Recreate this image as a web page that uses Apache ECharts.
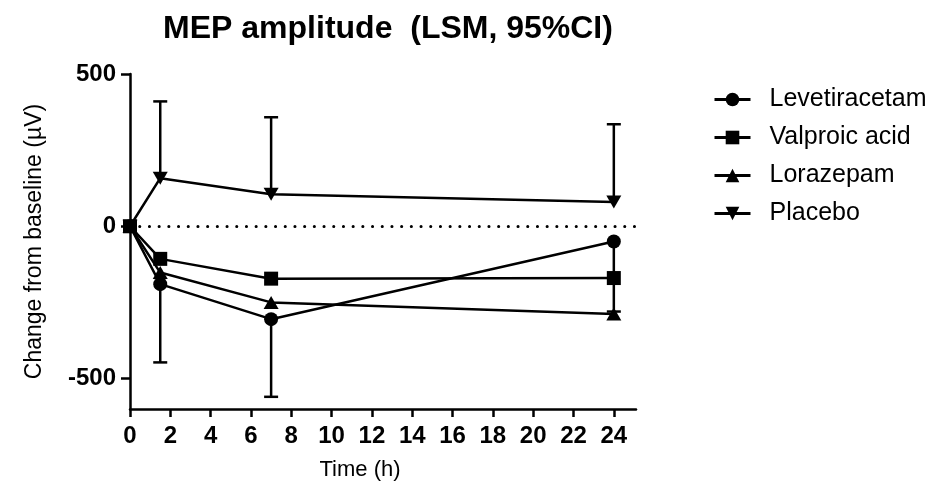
<!DOCTYPE html>
<html>
<head>
<meta charset="utf-8">
<script src="https://cdn.jsdelivr.net/npm/echarts@6/dist/echarts.min.js"></script>
<style>
  html, body { margin: 0; padding: 0; background: #fff; }
  #chart { width: 947px; height: 486px; }
</style>
</head>
<body>
<div id="chart"></div>
<script>
// time points (h)
const times = [0, 1.5, 7, 24];
const xTicks = [0, 2, 4, 6, 8, 10, 12, 14, 16, 18, 20, 22, 24];
const yTicks = [-500, 0, 500];

// LSM change from baseline (µV)
const levetiracetam = [0, -190, -305, -50];
const valproicAcid = [0, -107, -172, -170];
const lorazepam = [0, -152, -250, -288];
const placebo = [0, 158, 105, 80];

// one-sided 95% CI whiskers
const levetiracetamLower = [null, -447, -560, -280];
const placeboUpper = [null, 410, 358, 335];

const downTriangle = 'path://M0,0 L10,0 L5,9 Z';

const chart = echarts.init(document.getElementById('chart'));

function pairs(ys) {
  return times.map((t, i) => [t, ys[i]]);
}

function whiskers(mean, end) {
  const out = [];
  times.forEach((t, i) => {
    if (end[i] !== null) out.push([t, mean[i], end[i]]);
  });
  return out;
}

function renderWhisker(params, api) {
  const x = api.value(0);
  const p0 = api.coord([x, api.value(1)]);
  const p1 = api.coord([x, api.value(2)]);
  const half = 7;
  const style = { stroke: '#000', lineWidth: 2.5 };
  return {
    type: 'group',
    children: [
      { type: 'line', shape: { x1: p0[0], y1: p0[1], x2: p1[0], y2: p1[1] }, style: style },
      { type: 'line', shape: { x1: p1[0] - half, y1: p1[1], x2: p1[0] + half, y2: p1[1] }, style: style },
    ],
  };
}

function lineSeries(name, ys, symbol, size) {
  return {
    name: name,
    type: 'line',
    data: pairs(ys),
    symbol: symbol,
    symbolSize: size,
    showAllSymbol: true,
    z: 3,
    lineStyle: { color: '#000', width: 2.5 },
    itemStyle: { color: '#000', borderWidth: 0 },
    emphasis: { disabled: true },
  };
}

const font = '"Liberation Sans", Arial, sans-serif';

const option = {
  animation: false,
  textStyle: { fontFamily: font, color: '#000' },
  title: {
    text: 'MEP amplitude  (LSM, 95%CI)',
    left: 383,
    textAlign: 'center',
    top: 8,
    textStyle: { fontFamily: font, fontWeight: 'bold', fontSize: 32, color: '#000' },
  },
  legend: {
    data: ['Levetiracetam', 'Valproic acid', 'Lorazepam', 'Placebo'],
    orient: 'vertical',
    left: 708,
    top: 82,
    itemWidth: 36,
    itemHeight: 17,
    itemGap: 13,
    lineStyle: { width: 3 },
    textStyle: { fontFamily: font, fontSize: 25, color: '#000', padding: [0, 0, 0, 14] },
  },
  grid: { left: 130, right: 311, top: 74, bottom: 74, containLabel: false },
  xAxis: {
    type: 'value',
    min: 0,
    max: 25.1,
    name: 'Time (h)',
    nameLocation: 'middle',
    nameGap: 50,
    nameTextStyle: { fontFamily: font, fontSize: 22, color: '#000', padding: [0, 46, 0, 0] },
    axisLine: { show: true, onZero: false, lineStyle: { color: '#000', width: 2.5 } },
    axisTick: { show: true, length: 8, customValues: xTicks, lineStyle: { color: '#000', width: 2.5 } },
    axisLabel: { customValues: xTicks, margin: 15, fontFamily: font, fontWeight: 'bold', fontSize: 24, color: '#000' },
    splitLine: { show: false },
  },
  yAxis: {
    type: 'value',
    min: -600,
    max: 500,
    name: 'Change from baseline (µV)',
    nameLocation: 'middle',
    nameRotate: 90,
    nameGap: 84,
    nameTextStyle: { fontFamily: font, fontSize: 23, color: '#000' },
    axisLine: { show: true, onZero: false, lineStyle: { color: '#000', width: 2.5 } },
    axisTick: { show: true, length: 9, customValues: yTicks, lineStyle: { color: '#000', width: 2.5 } },
    axisLabel: { customValues: yTicks, margin: 14, fontFamily: font, fontWeight: 'bold', fontSize: 24, color: '#000' },
    splitLine: { show: false },
  },
  series: [
    {
      type: 'custom',
      name: 'placeboCI',
      renderItem: renderWhisker,
      data: whiskers(placebo, placeboUpper),
      encode: { x: 0, y: [1, 2] },
      z: 2,
      silent: true,
    },
    {
      type: 'custom',
      name: 'levetiracetamCI',
      renderItem: renderWhisker,
      data: whiskers(levetiracetam, levetiracetamLower),
      encode: { x: 0, y: [1, 2] },
      z: 2,
      silent: true,
    },
    Object.assign(lineSeries('Levetiracetam', levetiracetam, 'circle', 14), {
      markLine: {
        silent: true,
        symbol: 'none',
        label: { show: false },
        lineStyle: { color: '#000', width: 3, type: [0.1, 9.6], cap: 'round' },
        data: [{ yAxis: 0 }],
      },
    }),
    lineSeries('Valproic acid', valproicAcid, 'rect', 14),
    lineSeries('Lorazepam', lorazepam, 'triangle', [15, 13]),
    lineSeries('Placebo', placebo, downTriangle, [15, 13]),
  ],
};

chart.setOption(option);
</script>
</body>
</html>
